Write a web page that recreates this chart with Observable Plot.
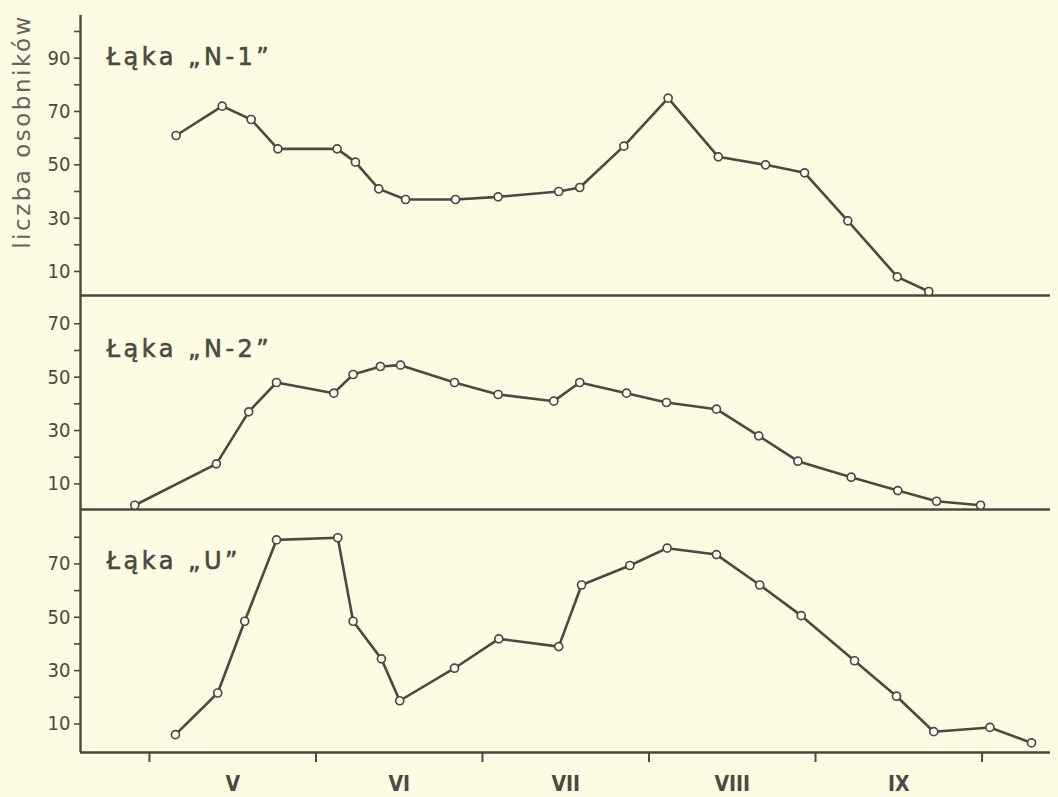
<!DOCTYPE html>
<html>
<head>
<meta charset="utf-8">
<script src="https://cdn.jsdelivr.net/npm/d3@7"></script>
<script src="https://cdn.jsdelivr.net/npm/@observablehq/plot@0.6"></script>
<style>
  html, body { margin: 0; padding: 0; background: #fdfbe4; }
  #chart { position: relative; width: 1058px; height: 797px; background: #fdfbe4; overflow: hidden; }
  #chart > div, #chart > svg { position: absolute; left: 0; }
</style>
</head>
<body>
<div id="chart"></div>
<script>
// x = month as fraction (5 = 1 May, 6 = 1 June, ...)
const panelTitles = ["Łąka „N-1”", "Łąka „N-2”", "Łąka „U”"];
const yLabel = "liczba osobników";
const monthTicks = [5, 6, 7, 8, 9, 10];
const monthLabelPos = [5.5, 6.5, 7.5, 8.5, 9.5];
const monthLabels = ["V", "VI", "VII", "VIII", "IX"];

const n1X = [5.160, 5.437, 5.611, 5.771, 6.127, 6.237, 6.377, 6.538, 6.838, 7.094, 7.458, 7.584, 7.849, 8.115, 8.416, 8.700, 8.934, 9.194, 9.491, 9.680];
const n1Y = [61, 72, 67, 56, 56, 51, 41, 37, 37, 38, 40, 41.5, 57, 75, 53, 50, 47, 29, 8, 2.5];

const n2X = [4.912, 5.402, 5.596, 5.763, 6.107, 6.223, 6.387, 6.508, 6.832, 7.094, 7.428, 7.584, 7.865, 8.105, 8.405, 8.659, 8.894, 9.214, 9.494, 9.727, 9.991];
const n2Y = [2, 17.5, 37, 48, 44, 51, 54, 54.5, 48, 43.5, 41, 48, 44, 40.5, 38, 28, 18.5, 12.5, 7.5, 3.5, 2];

const uX = [5.156, 5.410, 5.572, 5.763, 6.131, 6.223, 6.393, 6.503, 6.832, 7.098, 7.458, 7.595, 7.885, 8.109, 8.405, 8.665, 8.914, 9.234, 9.486, 9.710, 10.047, 10.297];
const uY = [6, 21.6, 48.5, 79, 79.8, 48.5, 34.4, 18.7, 30.9, 41.9, 39, 62.1, 69.4, 75.9, 73.5, 62.1, 50.6, 33.7, 20.4, 7.1, 8.7, 2.9];

const ink = "#4a4a42";
const xDomain = [4.586, 10.411];
const tickFont = "DejaVu Sans Condensed, DejaVu Sans, sans-serif";

const panels = [
  {title: panelTitles[0], xs: n1X, ys: n1Y, top: 0, height: 300, mt: 15, mb: 5, domain: [1, 106],
   major: [10, 30, 50, 70, 90], minor: [20, 40, 60, 80, 100], titleDy: 32, ylabel: true, xaxis: false},
  {title: panelTitles[1], xs: n2X, ys: n2Y, top: 295, height: 219, mt: 0, mb: 5, domain: [0.4, 80.6],
   major: [10, 30, 50, 70], minor: [20, 40, 60], titleDy: 44, ylabel: false, xaxis: false},
  {title: panelTitles[2], xs: uX, ys: uY, top: 509, height: 288, mt: 0, mb: 45, domain: [-0.7, 90.4],
   major: [10, 30, 50, 70], minor: [20, 40, 60, 80], titleDy: 42, ylabel: false, xaxis: true}
];

const chart = document.getElementById("chart");

for (const p of panels) {
  const data = p.xs.map((x, i) => ({x, y: p.ys[i]}));
  const marks = [
    Plot.axisY({ticks: p.major, tickSize: 6, tickPadding: 4, tickFormat: d => String(d),
      fontSize: 20, fontFamily: tickFont, stroke: ink, fill: ink, strokeWidth: 1.6, label: null}),
    Plot.axisY({ticks: p.minor, tickSize: 6, tickFormat: () => "", stroke: ink, strokeWidth: 1.6, label: null}),
    Plot.ruleX([xDomain[0]], {stroke: ink, strokeWidth: 2.4}),
    Plot.ruleY([p.domain[0]], {stroke: ink, strokeWidth: 2.6}),
    Plot.line(data, {x: "x", y: "y", stroke: ink, strokeWidth: 2.6, strokeLinejoin: "round"}),
    Plot.dot(data, {x: "x", y: "y", r: 4, fill: "#fffef4", stroke: ink, strokeWidth: 1.7}),
    Plot.text([p.title], {frameAnchor: "top-left", dx: 26, dy: p.titleDy, text: d => d, textAnchor: "start",
      fontSize: 24, fontFamily: "DejaVu Sans, sans-serif", fill: ink, stroke: ink, strokeWidth: 0.6})
  ];
  if (p.ylabel) {
    marks.push(Plot.text([yLabel], {frameAnchor: "left", dx: -58, dy: -24, rotate: -90, text: d => d,
      fontSize: 23, fontFamily: "DejaVu Sans, sans-serif", fill: "#66665c", textAnchor: "middle"}));
  }
  if (p.xaxis) {
    marks.push(Plot.axisX({ticks: monthTicks, tickSize: 10, tickFormat: () => "", stroke: ink, strokeWidth: 2, label: null}));
    marks.push(Plot.axisX({ticks: monthLabelPos, tickSize: 0, tickPadding: 24,
      tickFormat: (d, i) => monthLabels[i], fontSize: 21, fontFamily: tickFont, fontWeight: "bold",
      fill: ink, label: null}));
  }
  const svg = Plot.plot({
    width: 1058,
    height: p.height,
    marginLeft: 80,
    marginRight: 8,
    marginTop: p.mt,
    marginBottom: p.mb,
    style: {background: "transparent", color: ink, overflow: "visible"},
    x: {domain: xDomain, axis: null},
    y: {domain: p.domain, axis: null},
    marks
  });
  svg.style.top = p.top + "px";
  svg.style.position = "absolute";
  // widen letter spacing of the hand-lettered captions
  d3.select(svg).selectAll("text").each(function () {
    const t = this.textContent;
    if (t === p.title) this.style.letterSpacing = "3.5px";
    if (t === yLabel) this.style.letterSpacing = "2.5px";
  });
  chart.appendChild(svg);
}
</script>
</body>
</html>
